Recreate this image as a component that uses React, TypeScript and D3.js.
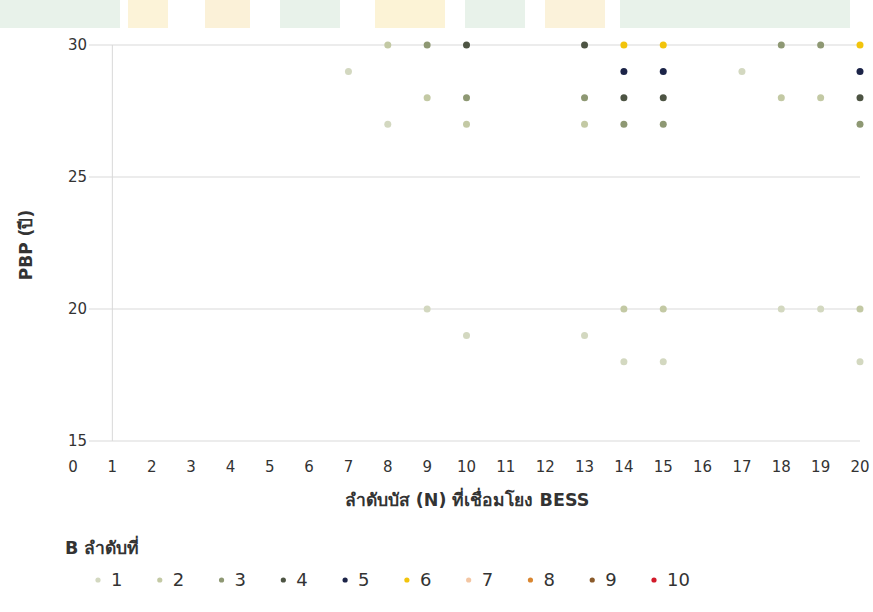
import React from "react";
import * as d3 from "d3";

const W = 873;
const H = 612;

const xTicks = d3.range(0, 21);
const yTicks = [15, 20, 25, 30];

const seriesNames = ["1", "2", "3", "4", "5", "6", "7", "8", "9", "10"];
const seriesColors = [
  "#d3d8c0",
  "#c3c9a4",
  "#8e9873",
  "#4d5443",
  "#1c2448",
  "#f2c40c",
  "#f3c6a3",
  "#d98630",
  "#8a5a2a",
  "#d21a2a",
];

// [N, PBP] per series
const s1: [number, number][] = [[7, 29], [8, 27], [9, 20], [10, 19], [13, 19], [14, 18], [15, 18], [17, 29], [18, 20], [19, 20], [20, 18]];
const s2: [number, number][] = [[8, 30], [9, 28], [10, 27], [13, 27], [14, 20], [15, 20], [18, 28], [19, 28], [20, 20]];
const s3: [number, number][] = [[9, 30], [10, 28], [13, 28], [14, 27], [15, 27], [18, 30], [19, 30], [20, 27]];
const s4: [number, number][] = [[10, 30], [13, 30], [14, 28], [15, 28], [20, 28]];
const s5: [number, number][] = [[14, 29], [15, 29], [20, 29]];
const s6: [number, number][] = [[14, 30], [15, 30], [20, 30]];
const s7: [number, number][] = [];
const s8: [number, number][] = [];
const s9: [number, number][] = [];
const s10: [number, number][] = [];
const allSeries = [s1, s2, s3, s4, s5, s6, s7, s8, s9, s10];

const FONT = "Tahoma, 'DejaVu Sans', 'Noto Sans', sans-serif";

export default function App() {
  const x = d3.scaleLinear().domain([0, 20]).range([73, 860]);
  const y = d3.scaleLinear().domain([15, 30]).range([441, 45]);
  const gridX0 = 89;

  const legendX = d3.scaleLinear().domain([0, 9]).range([98, 654]);

  const deco = [
    { x: 0, w: 120, c: "#e8f2ea" },
    { x: 128, w: 40, c: "#fcf3d8" },
    { x: 205, w: 45, c: "#fbf1d8" },
    { x: 280, w: 60, c: "#e8f2ea" },
    { x: 375, w: 70, c: "#fcf3d6" },
    { x: 465, w: 60, c: "#e8f2ea" },
    { x: 545, w: 60, c: "#fbf2da" },
    { x: 620, w: 80, c: "#e8f2ea" },
    { x: 700, w: 150, c: "#e8f2ea" },
  ];

  return (
    <svg
      width={W}
      height={H}
      style={{ position: "absolute", left: 0, top: 0, background: "#ffffff" }}
      fontFamily={FONT}
    >
      {/* faint watermark band */}
      <g>
        {deco.map((d, i) => (
          <rect key={i} x={d.x} y={0} width={d.w} height={28} fill={d.c} />
        ))}
      </g>

      {/* gridlines */}
      {yTicks.map((t) => (
        <line key={t} x1={gridX0} x2={x(20)} y1={y(t)} y2={y(t)} stroke="#d9d9d9" strokeWidth={1} />
      ))}
      {/* vertical axis line at N=1 */}
      <line x1={x(1)} x2={x(1)} y1={y(30)} y2={y(15)} stroke="#d9d9d9" strokeWidth={1} />

      {/* y tick labels */}
      {yTicks.map((t) => (
        <text key={t} x={87} y={y(t)} dy="0.35em" textAnchor="end" fontSize={15} fill="#333333">
          {t}
        </text>
      ))}

      {/* x tick labels */}
      {xTicks.map((t) => (
        <text key={t} x={x(t)} y={467} dy="0.35em" textAnchor="middle" fontSize={15} fill="#333333">
          {t}
        </text>
      ))}

      {/* points */}
      {allSeries.map((s, i) =>
        s.map(([n, v], j) => (
          <circle key={`${i}-${j}`} cx={x(n)} cy={y(v)} r={3.5} fill={seriesColors[i]} />
        ))
      )}

      {/* axis titles */}
      <text x={467} y={500} dy="0.35em" textAnchor="middle" fontSize={17.5} fill="#333333" fontWeight={600}>
        ลำดับบัส (N) ที่เชื่อมโยง BESS
      </text>
      <text
        transform={`translate(26, 245) rotate(-90)`}
        dy="0.35em"
        textAnchor="middle"
        fontSize={17}
        fill="#333333"
        fontWeight={600}
      >
        PBP (ปี)
      </text>

      {/* legend */}
      <text x={65} y={548} dy="0.35em" fontSize={17.5} fill="#333333" fontWeight={600}>
        B ลำดับที่
      </text>
      {seriesNames.map((nm, i) => (
        <g key={nm} transform={`translate(${legendX(i)}, 580)`}>
          <circle cx={0} cy={0} r={2.6} fill={seriesColors[i]} />
          <text x={13} y={0} dy="0.35em" fontSize={18} fill="#333333">
            {nm}
          </text>
        </g>
      ))}
    </svg>
  );
}
